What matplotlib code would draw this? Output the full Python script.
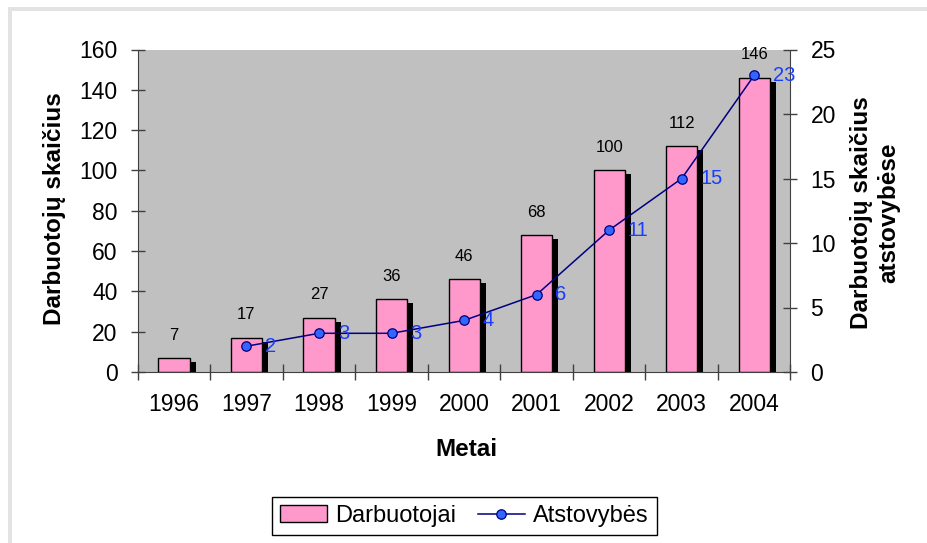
import numpy as np
import matplotlib

matplotlib.use("Agg")
import matplotlib.pyplot as plt
import matplotlib.patheffects as pe
from matplotlib.patches import Rectangle

plt.rcParams["font.family"] = ["Liberation Sans", "DejaVu Sans"]

YEARS = ["1996", "1997", "1998", "1999", "2000", "2001", "2002", "2003", "2004"]
EMPLOYEES = [7, 17, 27, 36, 46, 68, 100, 112, 146]
OFFICES = [np.nan, 2, 3, 3, 4, 6, 11, 15, 23]

AXIS_COLOR = "#404040"

fig = plt.figure(figsize=(9.27, 5.43), dpi=100)
W, H = 927, 543

# thin grey frame along the top and left edge
fig.add_artist(Rectangle((8 / W, 1 - 11 / H), 1 - 8 / W, 4 / H,
                         transform=fig.transFigure, color="#e3e3e3", lw=0))
fig.add_artist(Rectangle((8 / W, 0), 4 / W, 1 - 7 / H,
                         transform=fig.transFigure, color="#e3e3e3", lw=0))

ax = fig.add_axes([137.7 / W, 1 - 372 / H, 652.8 / W, 322.5 / H])
ax.set_facecolor("#c0c0c0")

x = np.arange(len(YEARS))
bars = ax.bar(x, EMPLOYEES, width=0.43, color="#ff99cc", edgecolor="black",
              linewidth=1.0, zorder=2)
for b in bars:
    b.set_path_effects([
        pe.SimplePatchShadow(offset=(4.4, -2.9), shadow_rgbFace="black", alpha=1.0),
        pe.Normal(),
    ])
for xi, v in zip(x, EMPLOYEES):
    ax.annotate(f"{v}", (xi, v), xytext=(0, 11), textcoords="offset points",
                ha="center", va="bottom", fontsize=12, color="black")

ax.set_xlim(-0.5, len(YEARS) - 0.5)
ax.set_ylim(0, 160)
ax.set_yticks(range(0, 161, 20))
ax.set_xticks(np.arange(-0.5, len(YEARS)), labels=[])
ax.set_xticks(x, labels=YEARS, minor=True)
ax.tick_params(axis="x", which="major", direction="inout", length=11, width=1, color=AXIS_COLOR)
ax.tick_params(axis="x", which="minor", length=0, pad=15, labelsize=16.5)
ax.tick_params(axis="y", direction="inout", length=10, width=1, color=AXIS_COLOR,
               pad=9.4, labelsize=16.5)
for side in ("top", "right"):
    ax.spines[side].set_visible(False)
for side in ("left", "bottom"):
    ax.spines[side].set_color(AXIS_COLOR)

ax2 = ax.twinx()
ax2.set_ylim(0, 25)
ax2.set_yticks(range(0, 26, 5))
ax2.tick_params(axis="y", direction="inout", length=10, width=1, color=AXIS_COLOR,
                pad=9.4, labelsize=16.5)
for side in ("top", "left", "bottom"):
    ax2.spines[side].set_visible(False)
ax2.spines["right"].set_color(AXIS_COLOR)

(line,) = ax2.plot(x, OFFICES, color="#000080", lw=1.1, marker="o", ms=6.8,
                   mfc="#3366ff", mec="#000080", mew=0.9, zorder=3)
for xi, v in zip(x, OFFICES):
    if np.isnan(v):
        continue
    ax2.annotate(f"{v:g}", (xi, v), xytext=(13.5, 0), textcoords="offset points",
                 ha="left", va="center", fontsize=14.5, color="#1a3cff")

fig.text(55 / W, 1 - 209 / H, "Darbuotojų skaičius", rotation=90, ha="center",
         va="center", fontsize=17.5, fontweight="bold")
fig.text(875 / W, 1 - 213 / H, "Darbuotojų skaičius\natstovybėse", rotation=90,
         ha="center", va="center", multialignment="center", fontsize=17.5,
         fontweight="bold")
fig.text(466 / W, 1 - 450 / H, "Metai", ha="center", va="center", fontsize=17.5,
         fontweight="bold")

leg = fig.legend([bars, line], ["Darbuotojai", "Atstovybės"], loc="center",
                 bbox_to_anchor=(464.5 / W, 1 - 516 / H), ncol=2, fancybox=False,
                 framealpha=1, edgecolor="black", fontsize=17, handlelength=2.0,
                 handletextpad=0.35, columnspacing=0.9, borderpad=0.35)
leg.get_frame().set_linewidth(1.0)
# the legend swatch is plain, without the bar shadow
leg.legend_handles[0].set_path_effects([])

fig.savefig("out.png", dpi=100, facecolor="white")
